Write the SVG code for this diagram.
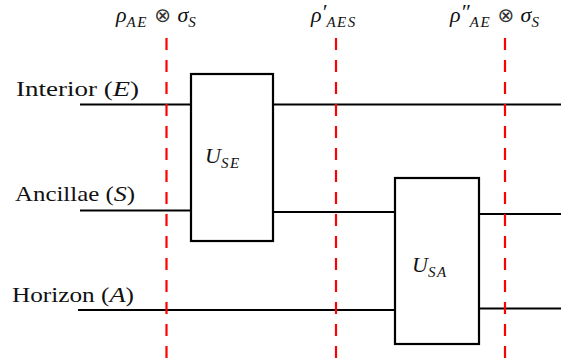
<svg xmlns="http://www.w3.org/2000/svg" width="561" height="364" viewBox="0 0 561 364">
  <style>
    .wire { stroke: #000; stroke-width: 2.2; fill: none; }
    .gate { stroke: #000; stroke-width: 2.2; fill: #fff; }
    .cut { stroke: #f00; stroke-width: 2.2; stroke-dasharray: 12 10; fill: none; }
    .lbl { font-family: "Liberation Serif", "Times New Roman", serif; font-size: 21px; fill: #111; }
    .math { font-family: "Liberation Serif", "Times New Roman", serif; font-style: italic; font-size: 22px; fill: #111; }
    .sub { font-size: 15px; letter-spacing: 1.5px; }
    .op { font-family: "DejaVu Sans", sans-serif; font-style: normal; font-size: 20px; fill: #333; }
  </style>

  <!-- qubit wires -->
  <g id="wires">
    <path class="wire" d="M80 104.5 H191 M273 104.5 H561"/>
    <path class="wire" d="M80 210.5 H191 M273 212 H395 M479 214 H561"/>
    <path class="wire" d="M78 310 H395 M479 308.5 H561"/>
  </g>

  <!-- time slices -->
  <g id="cuts">
    <path class="cut" d="M166.5 38 V364"/>
    <path class="cut" d="M336 38 V364"/>
    <path class="cut" d="M505 38 V364"/>
  </g>

  <!-- wire labels -->
  <g id="label-interior">
    <text class="lbl" x="16" y="96" textLength="123" lengthAdjust="spacingAndGlyphs">Interior (<tspan class="math" font-size="21">E</tspan>)</text>
  </g>
  <g id="label-ancillae">
    <text class="lbl" x="15" y="201" textLength="120" lengthAdjust="spacingAndGlyphs">Ancillae (<tspan class="math" font-size="21">S</tspan>)</text>
  </g>
  <g id="label-horizon">
    <text class="lbl" x="12" y="302" textLength="122" lengthAdjust="spacingAndGlyphs">Horizon (<tspan class="math" font-size="21">A</tspan>)</text>
  </g>

  <!-- gates -->
  <g id="gate-use">
    <rect class="gate" x="191" y="74" width="82" height="167"/>
    <text class="math" x="205" y="163">U<tspan class="sub" dy="5">SE</tspan></text>
  </g>
  <g id="gate-usa">
    <rect class="gate" x="395" y="178" width="84" height="166"/>
    <text class="math" x="412" y="272">U<tspan class="sub" dy="5">SA</tspan></text>
  </g>

  <!-- state labels -->
  <g id="state-1">
    <text class="math" x="116" y="22">ρ<tspan class="sub" dy="5">AE</tspan><tspan class="op" dy="-5"> ⊗ </tspan>σ<tspan class="sub" dy="5">S</tspan></text>
  </g>
  <g id="state-2">
    <text class="math" x="311" y="22">ρ<tspan dy="-3">′</tspan><tspan class="sub" dy="8">AES</tspan></text>
  </g>
  <g id="state-3">
    <text class="math" x="450" y="22">ρ<tspan dy="-3">″</tspan><tspan class="sub" dy="8">AE</tspan><tspan class="op" dy="-5"> ⊗ </tspan>σ<tspan class="sub" dy="5">S</tspan></text>
  </g>
</svg>
